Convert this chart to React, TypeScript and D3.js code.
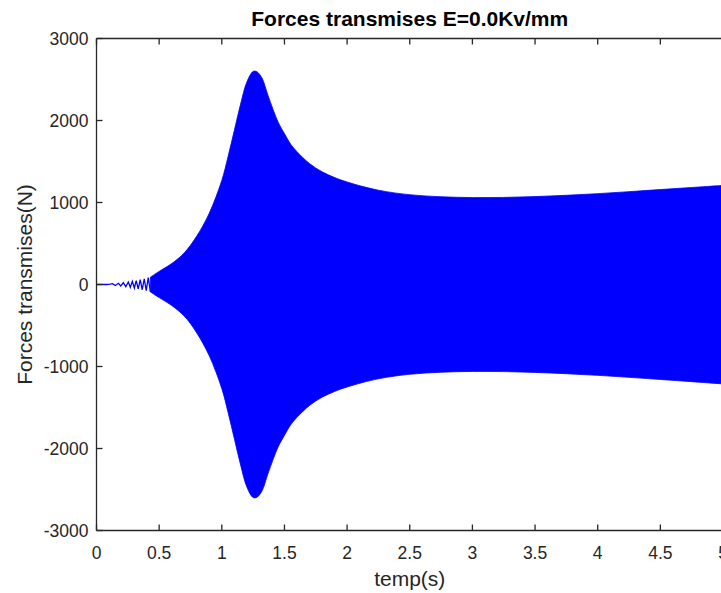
import React from "react";
import * as d3 from "d3";

// ---- data ----
const xTicks = [0, 0.5, 1, 1.5, 2, 2.5, 3, 3.5, 4, 4.5, 5];
const yTicks = [-3000, -2000, -1000, 0, 1000, 2000, 3000];

// early visible oscillation (time s, force N)
const earlyT = [0, 0.08, 0.11, 0.127, 0.15, 0.175, 0.194, 0.214, 0.234, 0.254, 0.27, 0.286, 0.302, 0.317, 0.333, 0.349, 0.365, 0.381, 0.397, 0.413, 0.43];
const earlyV = [0, 0, 5, 10, -12, 15, -18, 22, -26, 30, -34, 38, -43, 48, -53, 58, -64, 70, -76, 83, -90];

// envelope of the dense oscillation
const envT = [0.43, 0.5, 0.6, 0.7, 0.8, 0.9, 1.0, 1.05, 1.1, 1.15, 1.2, 1.25, 1.28, 1.32, 1.37, 1.45, 1.5, 1.55, 1.6, 1.7, 1.8, 1.9, 2.0, 2.25, 2.5, 2.75, 3.0, 3.25, 3.5, 3.75, 4.0, 4.25, 4.5, 4.75, 5.0];
const envUpper = [90, 160, 255, 385, 590, 870, 1270, 1560, 1880, 2200, 2470, 2598, 2595, 2520, 2300, 1980, 1840, 1710, 1620, 1475, 1375, 1305, 1250, 1150, 1095, 1070, 1060, 1062, 1072, 1088, 1108, 1132, 1158, 1183, 1208];
const envLower = [-90, -160, -255, -385, -590, -870, -1270, -1560, -1880, -2200, -2470, -2598, -2595, -2520, -2300, -1980, -1840, -1710, -1620, -1475, -1375, -1305, -1250, -1150, -1095, -1070, -1060, -1062, -1072, -1088, -1108, -1132, -1158, -1185, -1212];

const W = 721;
const H = 593;
const L = 96.5;
const R = 723;
const T = 38.5;
const B = 530.5;
const axisColor = "#262626";
const font = "Arial, 'Liberation Sans', Helvetica, sans-serif";

export default function App() {
  const x = d3.scaleLinear().domain([0, 5]).range([L, R]);
  const y = d3.scaleLinear().domain([-3000, 3000]).range([B, T]);

  const area = d3
    .area<number>()
    .x((_, i) => x(envT[i]))
    .y0((_, i) => y(envLower[i]))
    .y1((_, i) => y(envUpper[i]))
    .curve(d3.curveCatmullRom.alpha(0.5));
  const line = d3
    .line<number>()
    .x((_, i) => x(earlyT[i]))
    .y((_, i) => y(earlyV[i]));

  const areaPath = area(envT) || "";
  const linePath = line(earlyT) || "";

  return (
    <div style={{ position: "absolute", left: 0, top: 0 }}>
      <svg width={W} height={H} style={{ display: "block", background: "#fff" }}>
        <defs>
          <clipPath id="plotclip">
            <rect x={L} y={T} width={R - L} height={B - T} />
          </clipPath>
        </defs>
        <g clipPath="url(#plotclip)">
          <path d={areaPath} fill="#0000ff" stroke="#0000ff" strokeWidth={0.8} />
          <path d={linePath} fill="none" stroke="#0000ff" strokeWidth={1.3} />
        </g>
        {/* axes box */}
        <line x1={L} x2={R} y1={B} y2={B} stroke={axisColor} strokeWidth={1.3} />
        <line x1={L} x2={R} y1={T} y2={T} stroke={axisColor} strokeWidth={1.3} />
        <line x1={L} x2={L} y1={T} y2={B} stroke={axisColor} strokeWidth={1.3} />
        {xTicks.map((t) => (
          <g key={"xt" + t}>
            <line x1={x(t)} x2={x(t)} y1={B} y2={B - 6} stroke={axisColor} strokeWidth={1.3} />
            <line x1={x(t)} x2={x(t)} y1={T} y2={T + 6} stroke={axisColor} strokeWidth={1.3} />
            <text x={x(t)} y={B + 28} textAnchor="middle" fontFamily={font} fontSize={17.5} fill={axisColor}>
              {String(t)}
            </text>
          </g>
        ))}
        {yTicks.map((v) => (
          <g key={"yt" + v}>
            <line x1={L} x2={L + 6} y1={y(v)} y2={y(v)} stroke={axisColor} strokeWidth={1.3} />
            <text x={L - 8} y={y(v) + 6} textAnchor="end" fontFamily={font} fontSize={17.5} fill={axisColor}>
              {String(v)}
            </text>
          </g>
        ))}
        <text x={(L + R) / 2} y={26} textAnchor="middle" fontFamily={font} fontWeight="bold" fontSize={21} fill="#000">
          Forces transmises E=0.0Kv/mm
        </text>
        <text x={(L + R) / 2} y={586} textAnchor="middle" fontFamily={font} fontSize={21} fill={axisColor}>
          temp(s)
        </text>
        <text
          transform={`translate(32, ${(T + B) / 2}) rotate(-90)`}
          textAnchor="middle"
          fontFamily={font}
          fontSize={21}
          fill={axisColor}
        >
          Forces transmises(N)
        </text>
      </svg>
    </div>
  );
}
